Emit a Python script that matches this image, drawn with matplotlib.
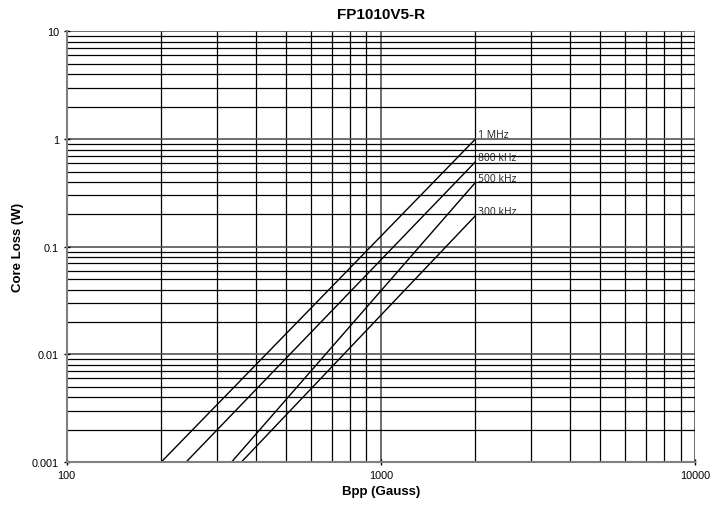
import matplotlib
matplotlib.use('Agg')
import matplotlib.pyplot as plt
import matplotlib.ticker as mticker

# curve end points: (Bpp start, Bpp end), (loss start, loss end)
labels = ['1 MHz', '800 kHz', '500 kHz', '300 kHz']
bpp = [[200, 2000], [240, 2000], [335, 2000], [360, 2000]]
loss = [[0.001, 1.0], [0.001, 0.615], [0.001, 0.395], [0.001, 0.194]]

plt.rcParams['font.family'] = ['Liberation Sans', 'DejaVu Sans']

fig = plt.figure(figsize=(7.12, 5.06), dpi=100)
ax = fig.add_axes([0.0937, 0.085, 0.8823, 0.8508])

ax.set_xscale('log')
ax.set_yscale('log')
ax.set_xlim(100, 10000)
ax.set_ylim(0.001, 10)

for xs, ys, lab in zip(bpp, loss, labels):
    ax.plot(xs, ys, color='black', lw=1.0, solid_capstyle='butt')
    ax.annotate(lab, (xs[-1], ys[-1]), xytext=(2, 3), textcoords='offset points',
                fontsize=7.5, family=['Open Sans', 'DejaVu Sans'],
                va='center', ha='left', color='#222222')

ax.xaxis.set_major_locator(mticker.LogLocator(base=10))
ax.xaxis.set_minor_locator(mticker.LogLocator(base=10, subs=range(2, 10)))
ax.yaxis.set_major_locator(mticker.LogLocator(base=10))
ax.yaxis.set_minor_locator(mticker.LogLocator(base=10, subs=range(2, 10)))
ax.xaxis.set_major_formatter(mticker.FuncFormatter(lambda v, p: '%g' % v))
ax.yaxis.set_major_formatter(mticker.FuncFormatter(lambda v, p: '%g' % v))
ax.xaxis.set_minor_formatter(mticker.NullFormatter())
ax.yaxis.set_minor_formatter(mticker.NullFormatter())

ax.grid(True, which='major', color='#555555', lw=1.2)
ax.grid(True, which='minor', color='black', lw=0.9)
ax.set_axisbelow(True)

for s in ['top', 'right']:
    ax.spines[s].set_visible(False)
for s in ['left', 'bottom']:
    ax.spines[s].set_color('#808080')
    ax.spines[s].set_linewidth(1.5)

ax.tick_params(which='major', direction='inout', length=5, width=1, labelsize=7.8, color='black', pad=3)
ax.tick_params(which='minor', length=0)

ax.set_title('FP1010V5-R', fontsize=11, fontweight='bold', pad=10)
ax.set_xlabel('Bpp (Gauss)', fontsize=9.5, fontweight='bold', labelpad=4)
ax.set_ylabel('Core Loss (W)', fontsize=9.5, fontweight='bold', labelpad=6)

fig.savefig('out.png', dpi=100)
